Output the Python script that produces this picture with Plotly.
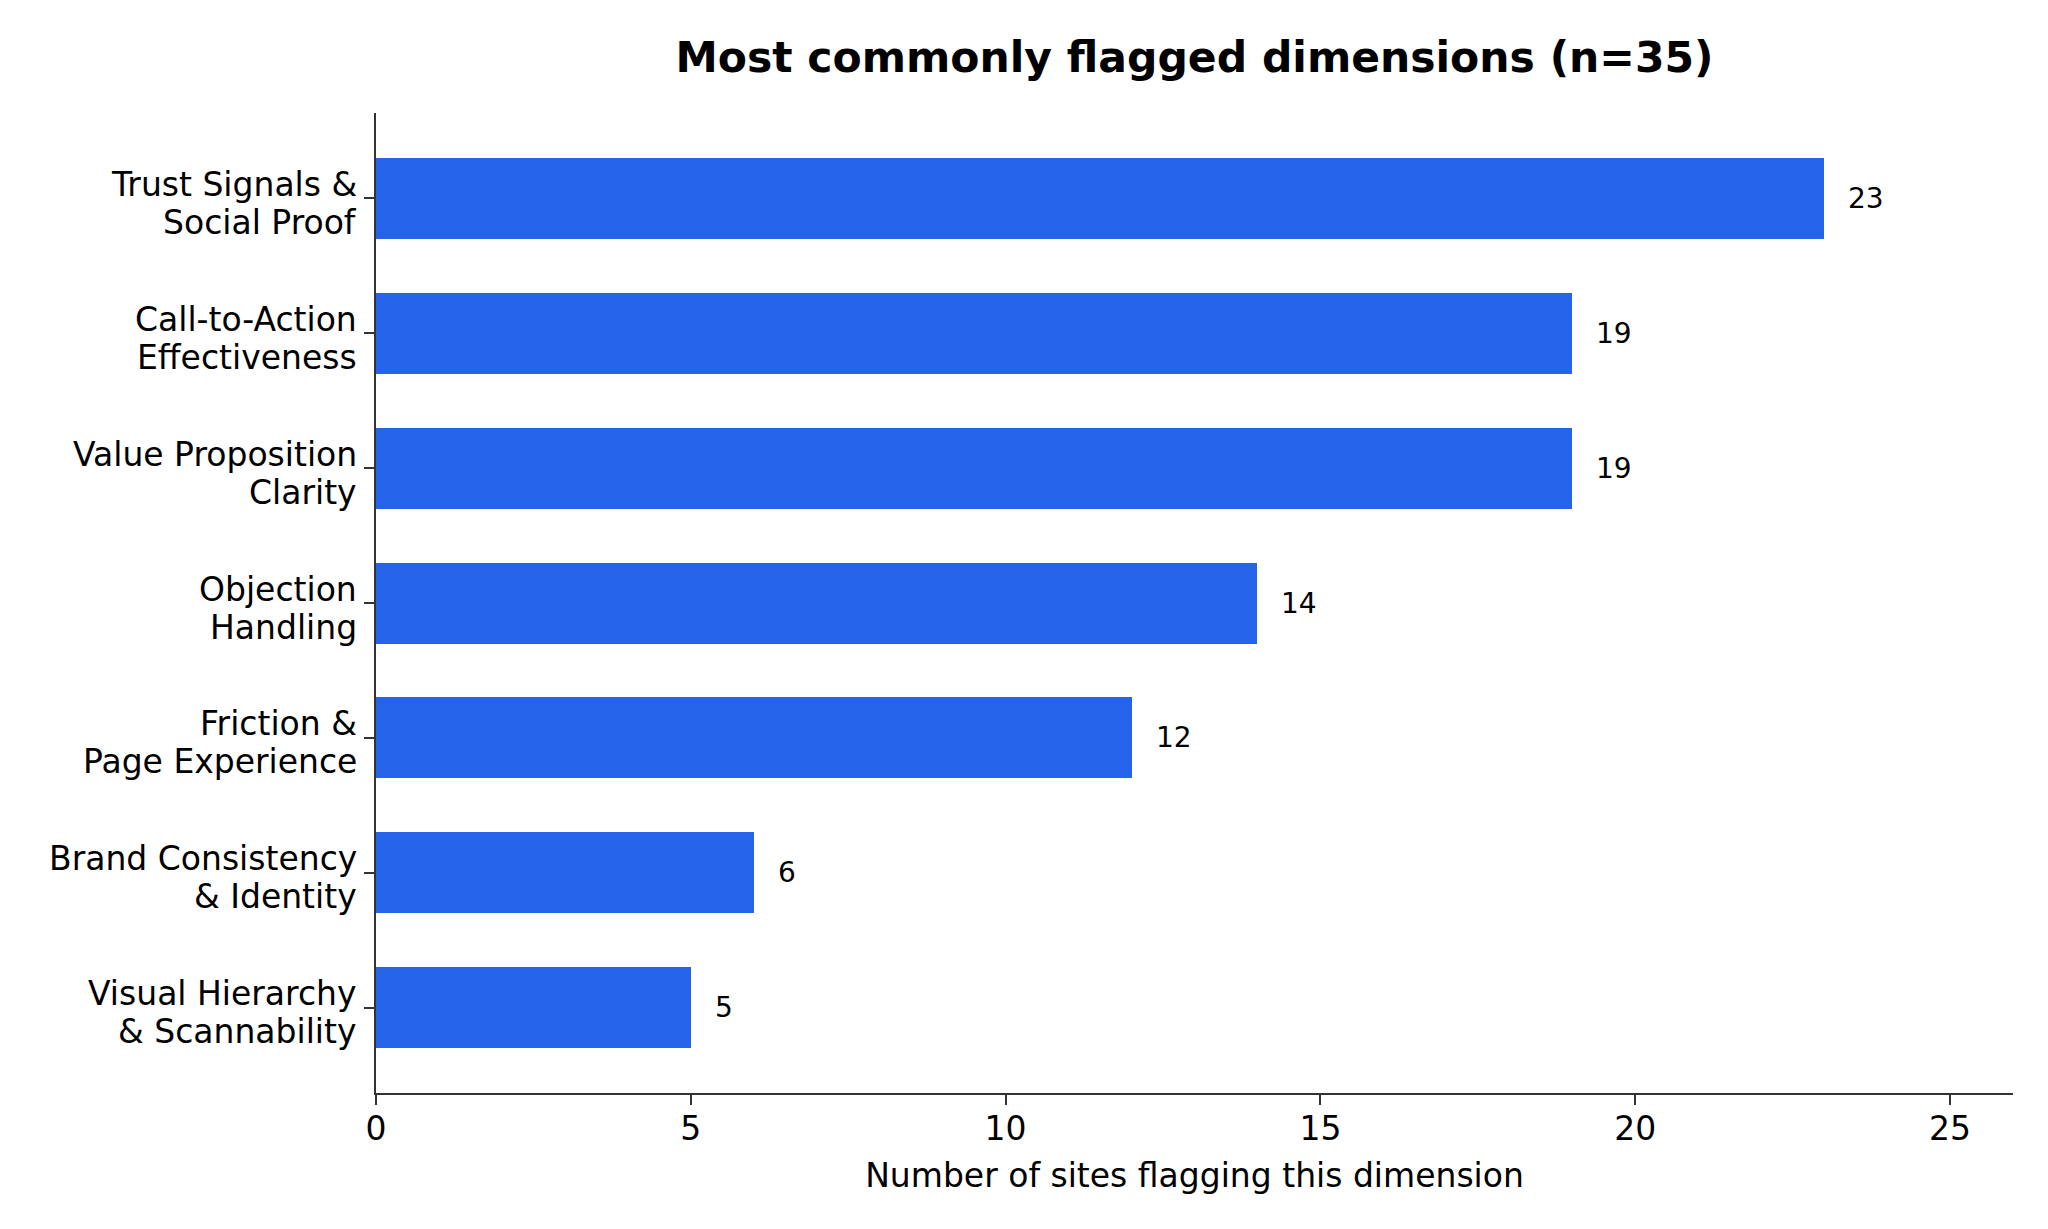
"""
Gráfico: dimensões mais sinalizadas (n=35).
"""

import plotly.graph_objects as go

# dados (ordem de cima para baixo), cada rótulo em duas linhas
LABEL_LINE_1 = [
    "Trust Signals &",
    "Call-to-Action",
    "Value Proposition",
    "Objection",
    "Friction &",
    "Brand Consistency",
    "Visual Hierarchy",
]
LABEL_LINE_2 = [
    "Social Proof",
    "Effectiveness",
    "Clarity",
    "Handling",
    "Page Experience",
    "& Identity",
    "& Scannability",
]
COUNTS = [23, 19, 19, 14, 12, 6, 5]
X_TICKS = [0, 5, 10, 15, 20, 25]

TITLE = "Most commonly flagged dimensions (n=35)"
X_TITLE = "Number of sites flagging this dimension"

BAR_COLOR = "#2563EB"
AXIS_COLOR = "#333333"
FONT = "DejaVu Sans"

# a página tem 8px de margem no body
WIDTH, HEIGHT = 2040, 1221
MARGIN = dict(l=368, r=35, t=105, b=136)

positions = list(range(len(COUNTS)))

fig = go.Figure()
fig.add_trace(
    go.Bar(
        x=COUNTS,
        y=positions,
        orientation="h",
        width=0.6,
        marker=dict(color=BAR_COLOR, line=dict(width=0)),
        hoverinfo="skip",
    )
)

# valores ao lado das barras
for pos, value in zip(positions, COUNTS):
    fig.add_annotation(
        x=value,
        y=pos,
        text=str(value),
        showarrow=False,
        xanchor="left",
        yanchor="middle",
        xshift=22,
        font=dict(family=FONT, size=28, color="#000000"),
    )

# rótulos do eixo y (espaçamento de linha mais apertado que o padrão do plotly)
for pos, line_1, line_2 in zip(positions, LABEL_LINE_1, LABEL_LINE_2):
    for text, shift in ((line_1, 14), (line_2, -24)):
        fig.add_annotation(
            x=0,
            xref="paper",
            y=pos,
            text=text,
            showarrow=False,
            xanchor="right",
            yanchor="middle",
            xshift=-17,
            yshift=shift,
            font=dict(family=FONT, size=33, color="#000000"),
        )

plot_center = (MARGIN["l"] + (WIDTH - MARGIN["r"])) / 2 / WIDTH

fig.update_layout(
    width=WIDTH,
    height=HEIGHT,
    paper_bgcolor="white",
    plot_bgcolor="white",
    font=dict(family=FONT, size=33, color="#000000"),
    margin=MARGIN,
    showlegend=False,
    title=dict(
        text=TITLE,
        x=plot_center,
        xanchor="center",
        y=1 - 49 / HEIGHT,
        yanchor="middle",
        font=dict(family=FONT, size=42.5, color="#000000", weight="bold"),
    ),
    bargap=0,
)

fig.update_xaxes(
    range=[0, 26],
    tickvals=X_TICKS,
    ticks="outside",
    ticklen=10,
    tickwidth=2,
    tickcolor=AXIS_COLOR,
    ticklabelstandoff=-5,
    showline=True,
    linecolor=AXIS_COLOR,
    linewidth=2,
    showgrid=False,
    zeroline=False,
    tickfont=dict(family=FONT, size=33),
    title=dict(text=X_TITLE, font=dict(family=FONT, size=33), standoff=17),
)

fig.update_yaxes(
    range=[6.63, -0.63],
    tickvals=positions,
    showticklabels=False,
    ticks="outside",
    ticklen=10,
    tickwidth=2,
    tickcolor=AXIS_COLOR,
    showline=True,
    linecolor=AXIS_COLOR,
    linewidth=2,
    showgrid=False,
    zeroline=False,
)

fig.write_html("out.html")
